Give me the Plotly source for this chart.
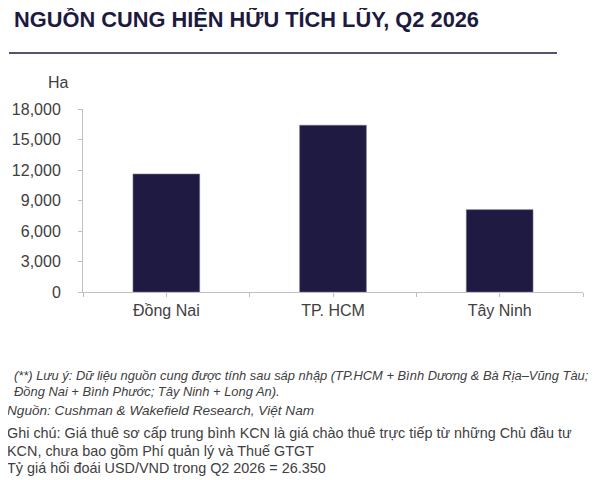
import plotly.graph_objects as go

# Dữ liệu
regions = ['Đồng Nai', 'TP. HCM', 'Tây Ninh']
supply_ha = [11600, 16400, 8100]
y_ticks = [0, 3000, 6000, 9000, 12000, 15000, 18000]

title_text = 'NGUỒN CUNG HIỆN HỮU TÍCH LŨY, Q2 2026'
unit_text = 'Ha'
note_lines = [
    '(**) Lưu ý: Dữ liệu nguồn cung được tính sau sáp nhập (TP.HCM + Bình Dương & Bà Rịa–Vũng Tàu;',
    'Đồng Nai + Bình Phước; Tây Ninh + Long An).',
]
source_text = 'Nguồn: Cushman & Wakefield Research, Việt Nam'
remark_lines = [
    'Ghi chú: Giá thuê sơ cấp trung bình KCN là giá chào thuê trực tiếp từ những Chủ đầu tư',
    'KCN, chưa bao gồm Phí quản lý và Thuế GTGT',
    'Tỷ giá hối đoái USD/VND trong Q2 2026 = 26.350',
]

W, H = 602, 480
OFF = 8  # lề mặc định của trang (body margin)
L, T = 83 - OFF, 109 - OFF
R, B = W - (583 - OFF), H - (292 - OFF)
navy = '#1f1a42'
txt = '#404040'
font = 'Liberation Sans, Arial, sans-serif'

# chuyển toạ độ pixel (theo ảnh) sang paper
def px(x):
    return (x - OFF - L) / (W - L - R)

def py(y):
    return (H - B - (y - OFF)) / (H - T - B)

xpos = list(range(len(regions)))

fig = go.Figure(go.Bar(
    x=xpos, y=supply_ha, width=0.4,
    marker=dict(color=navy, line=dict(color='#6e6a8a', width=0.6)),
))

fig.update_layout(
    width=W, height=H,
    margin=dict(l=L, r=R, t=T, b=B),
    plot_bgcolor='white', paper_bgcolor='white',
    font=dict(family=font, color=txt, size=16),
    showlegend=False,
)
fig.update_xaxes(
    range=[-0.5, len(regions) - 0.5],
    tickmode='array', tickvals=xpos, ticktext=regions,
    ticks='outside', ticklen=4, tickcolor='#bfbfbf',
    showline=True, linecolor='#bfbfbf', linewidth=1,
    showgrid=False, zeroline=False, automargin=False,
    ticklabelstandoff=0,
    minor=dict(tickmode='array', tickvals=[i - 0.5 for i in range(len(regions) + 1)],
               ticks='outside', ticklen=4, tickcolor='#bfbfbf', showgrid=False),
)
fig.update_yaxes(
    range=[0, 18000],
    tickmode='array', tickvals=y_ticks, tickformat=',',
    ticks='outside', ticklen=4, tickcolor='#bfbfbf',
    showline=True, linecolor='#bfbfbf', linewidth=1,
    showgrid=False, zeroline=False, automargin=False,
    ticklabelstandoff=14,
)

ann = []
ann.append(dict(text='<b>' + title_text + '</b>', x=px(12), y=py(20), xanchor='left', yanchor='middle',
                font=dict(size=21.8, color='#1c1a40')))
ann.append(dict(text=unit_text, x=px(71), y=py(82), xanchor='right', yanchor='middle',
                font=dict(size=16, color=txt)))
ann.append(dict(text='<i>' + note_lines[0] + '</i>', x=px(12), y=py(375), xanchor='left', yanchor='middle',
                font=dict(size=12.9, color=txt)))
ann.append(dict(text='<i>' + note_lines[1] + '</i>', x=px(12), y=py(391), xanchor='left', yanchor='middle',
                font=dict(size=12.9, color=txt)))
ann.append(dict(text='<i>' + source_text + '</i>', x=px(5), y=py(410), xanchor='left', yanchor='middle',
                font=dict(size=13.6, color=txt)))
for i, line in enumerate(remark_lines):
    ann.append(dict(text=line, x=px(5), y=py(433 + 17.5 * i), xanchor='left', yanchor='middle',
                    font=dict(size=14.4, color=txt)))
for a in ann:
    a.update(xref='paper', yref='paper', showarrow=False)
fig.update_layout(annotations=ann)

fig.add_shape(type='line', xref='paper', yref='paper',
              x0=px(9), x1=px(557), y0=py(53), y1=py(53),
              line=dict(color='#1c1a40', width=1.5))

fig.write_html('out.html')
